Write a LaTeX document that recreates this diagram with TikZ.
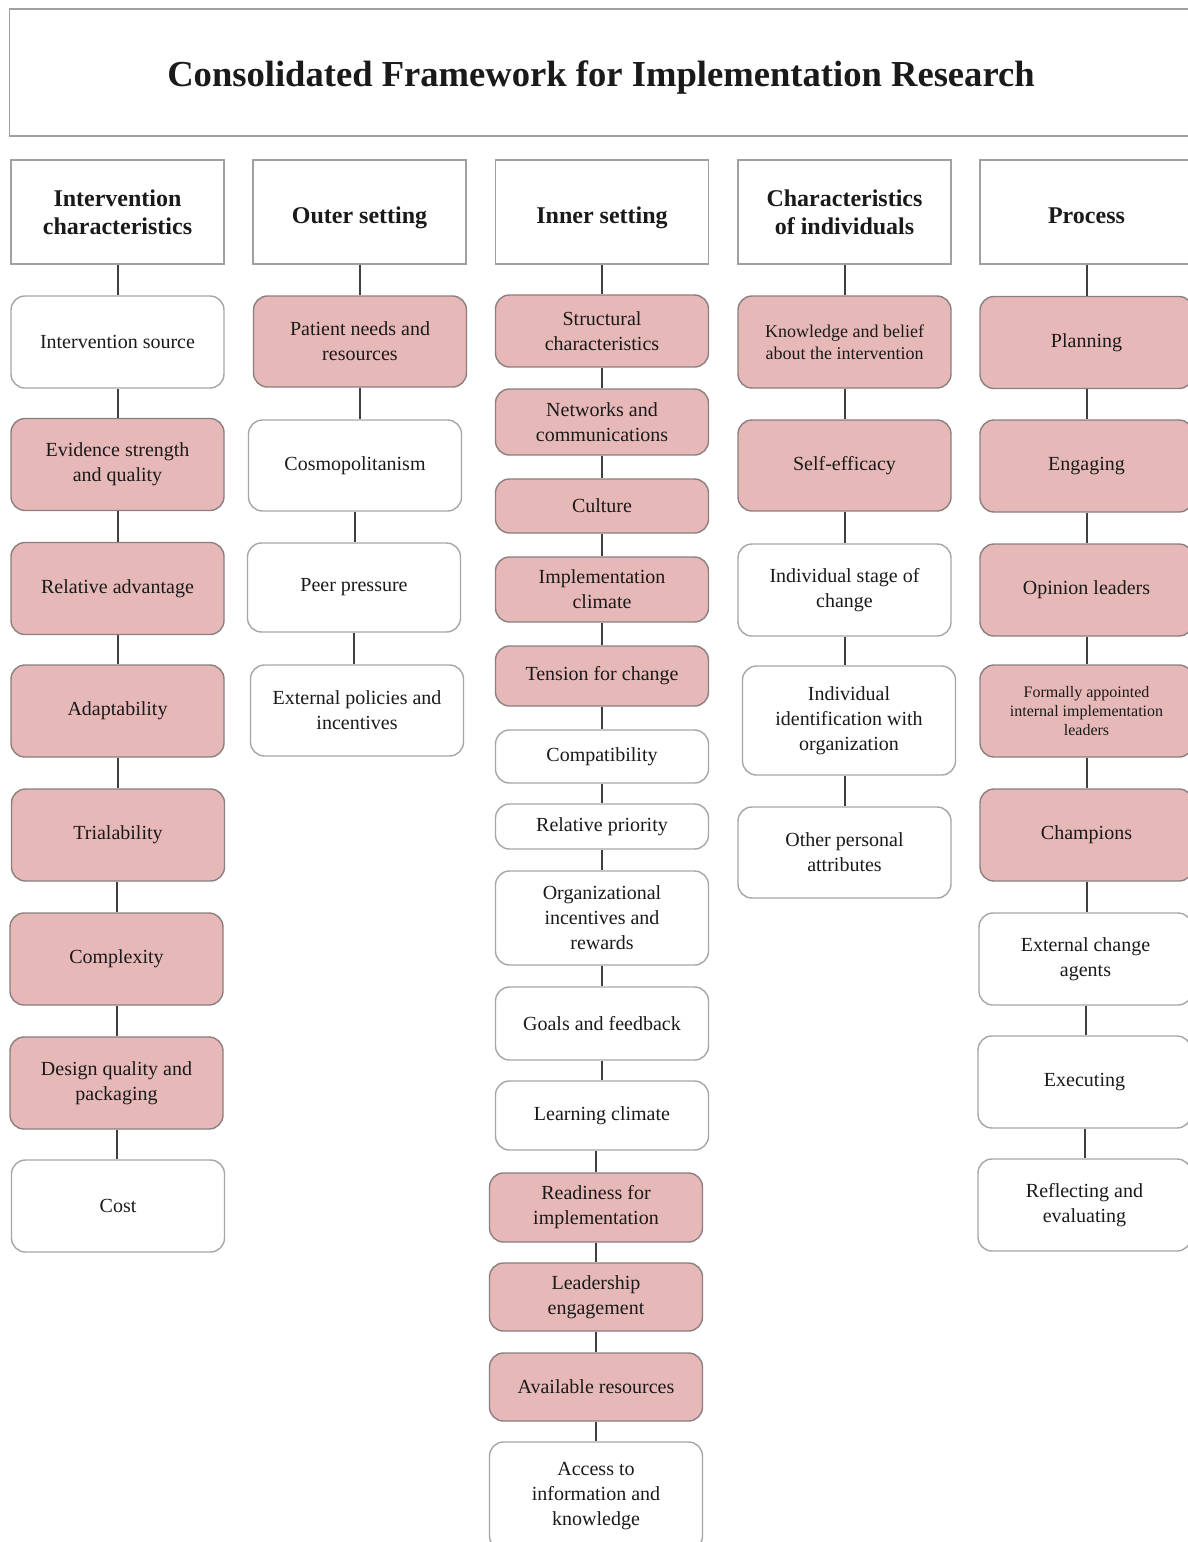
\documentclass[tikz,border=0pt]{standalone}
\usepackage{fontspec}
\setmainfont{Liberation Serif}
\usepackage{tikz}
\usetikzlibrary{positioning}

\definecolor{cfirpink}{HTML}{E6B8B7}
\definecolor{pinkedge}{HTML}{8C7F7F}
\definecolor{boxgray}{HTML}{A6A6A6}
\definecolor{headgray}{HTML}{A0A0A0}
\definecolor{linegray}{HTML}{404040}
\definecolor{inkgray}{HTML}{1A1A1A}

\tikzset{
  headbox/.style={draw=headgray, line width=0.7pt, fill=white, text=inkgray,
    minimum width=106.5pt, minimum height=52pt, align=center,
    font=\bfseries\fontsize{12}{14}\selectfont},
  headone/.style={headbox, text height=11pt, text depth=0pt},
  itembox/.style={draw=boxgray, rounded corners=7pt, line width=0.7pt, text=inkgray,
    minimum width=106.5pt, minimum height=46pt, align=center, inner sep=2pt,
    font=\fontsize{10}{12.5}\selectfont},
  pinkbox/.style={itembox, fill=cfirpink, draw=pinkedge},
  whitebox/.style={itembox, fill=white},
  conn/.style={draw=linegray, line width=1pt}
}

\begin{document}
\begin{tikzpicture}[x=0.5pt,y=-0.5pt]
        \clip (0,0) rectangle (1188,1542);
        \fill[white] (0,0) rectangle (1188,1542);

        % title
        \node[draw=headgray, line width=0.7pt, minimum width=592.5pt, minimum height=63.5pt] (title) at (602,72.5) {};
        \node[font=\bfseries\fontsize{18.3}{22}\selectfont, text=inkgray] (titletext) at (601,78) {Consolidated Framework for Implementation Research};

        % headers
        \node[headbox] (hint) at (117.5,212) {Intervention\\characteristics};
        \node[headone] (hout) at (359.5,212) {Outer setting};
        \node[headone] (hinn) at (602,212) {Inner setting};
        \node[headbox] (hind) at (844.5,212) {Characteristics\\of individuals};
        \node[headone] (hpro) at (1086.5,212) {Process};

        % intervention characteristics
        \node[whitebox] (source) at (117.5,342) {Intervention source};
        \node[pinkbox] (evidence) at (117.5,464.5) {Evidence strength\\and quality};
        \node[pinkbox] (advantage) at (117.5,588.5) {Relative advantage};
        \node[pinkbox] (adapt) at (117.5,711) {Adaptability};
        \node[pinkbox] (trial) at (118,835) {Trialability};
        \node[pinkbox] (complex) at (116.5,959) {Complexity};
        \node[pinkbox] (design) at (116.5,1083) {Design quality and\\packaging};
        \node[whitebox] (cost) at (118,1206) {Cost};

        % outer setting
        \node[pinkbox, minimum height=45.5pt] (needs) at (360,341.5) {Patient needs and\\resources};
        \node[whitebox, minimum height=45.5pt] (cosmo) at (355,465.5) {Cosmopolitanism};
        \node[whitebox, minimum height=44.5pt] (peer) at (354,587.5) {Peer pressure};
        \node[whitebox, minimum height=45.5pt] (policies) at (357,710.5) {External policies and\\incentives};

        % inner setting
        \node[pinkbox, minimum height=36pt] (struct) at (602,331) {Structural\\characteristics};
        \node[pinkbox, minimum height=33pt] (networks) at (602,422) {Networks and\\communications};
        \node[pinkbox, minimum height=27pt] (culture) at (602,506) {Culture};
        \node[pinkbox, minimum height=32.5pt] (climate) at (602,589.5) {Implementation\\climate};
        \node[pinkbox, minimum height=30pt] (tension) at (602,676) {Tension for change};
        \node[whitebox, minimum height=26.5pt] (compat) at (602,756.5) {Compatibility};
        \node[whitebox, minimum height=22.5pt] (priority) at (602,826.5) {Relative priority};
        \node[whitebox, minimum height=47pt] (rewards) at (602,918) {Organizational\\incentives and\\rewards};
        \node[whitebox, minimum height=36.5pt] (goals) at (602,1023.5) {Goals and feedback};
        \node[whitebox, minimum height=34.5pt] (learning) at (602,1115.5) {Learning climate};
        \node[pinkbox, minimum height=34.5pt] (readiness) at (596,1207.5) {Readiness for\\implementation};
        \node[pinkbox, minimum height=34pt] (leader) at (596,1297) {Leadership\\engagement};
        \node[pinkbox, minimum height=34pt] (available) at (596,1387) {Available resources};
        \node[whitebox, minimum height=54pt] (access) at (596,1496) {Access to\\information and\\knowledge};

        % characteristics of individuals
        \node[pinkbox, font=\fontsize{9}{11}\selectfont] (knowledge) at (844.5,342) {Knowledge and belief\\about the intervention};
        \node[pinkbox, minimum height=45.5pt] (efficacy) at (844.5,465.5) {Self-efficacy};
        \node[whitebox] (stage) at (844.5,590) {Individual stage of\\change};
        \node[whitebox, minimum height=54.5pt] (ident) at (849,720.5) {Individual\\identification with\\organization};
        \node[whitebox, minimum height=45.5pt] (other) at (844.5,852.5) {Other personal\\attributes};

        % process
        \node[pinkbox] (planning) at (1086.5,342.5) {Planning};
        \node[pinkbox] (engaging) at (1086.5,466) {Engaging};
        \node[pinkbox] (opinion) at (1086.5,590) {Opinion leaders};
        \node[pinkbox, font=\fontsize{8}{9.5}\selectfont] (formal) at (1086.5,711) {Formally appointed\\internal implementation\\leaders};
        \node[pinkbox] (champions) at (1086.5,835) {Champions};
        \node[whitebox] (agents) at (1085.5,959) {External change\\agents};
        \node[whitebox] (executing) at (1084.5,1082) {Executing};
        \node[whitebox] (reflect) at (1084.5,1205) {Reflecting and\\evaluating};

        % connectors
        \draw[conn] (hint.south) -- (hint.south |- source.north);
        \draw[conn] (source.south) -- (source.south |- evidence.north);
        \draw[conn] (evidence.south) -- (evidence.south |- advantage.north);
        \draw[conn] (advantage.south) -- (advantage.south |- adapt.north);
        \draw[conn] (adapt.south) -- (adapt.south |- trial.north);
        \draw[conn] (complex.north) -- (complex.north |- trial.south);
        \draw[conn] (complex.south) -- (complex.south |- design.north);
        \draw[conn] (design.south) -- (design.south |- cost.north);

        \draw[conn] (hout.south) -- (hout.south |- needs.north);
        \draw[conn] (needs.south) -- (needs.south |- cosmo.north);
        \draw[conn] (cosmo.south) -- (cosmo.south |- peer.north);
        \draw[conn] (peer.south) -- (peer.south |- policies.north);

        \draw[conn] (hinn.south) -- (hinn.south |- struct.north);
        \draw[conn] (struct.south) -- (networks.north);
        \draw[conn] (networks.south) -- (culture.north);
        \draw[conn] (culture.south) -- (climate.north);
        \draw[conn] (climate.south) -- (tension.north);
        \draw[conn] (tension.south) -- (compat.north);
        \draw[conn] (compat.south) -- (priority.north);
        \draw[conn] (priority.south) -- (rewards.north);
        \draw[conn] (rewards.south) -- (goals.north);
        \draw[conn] (goals.south) -- (learning.north);
        \draw[conn] (readiness.north) -- (readiness.north |- learning.south);
        \draw[conn] (readiness.south) -- (leader.north);
        \draw[conn] (leader.south) -- (available.north);
        \draw[conn] (available.south) -- (access.north);

        \draw[conn] (hind.south) -- (hind.south |- knowledge.north);
        \draw[conn] (knowledge.south) -- (efficacy.north);
        \draw[conn] (efficacy.south) -- (stage.north);
        \draw[conn] (stage.south) -- (stage.south |- ident.north);
        \draw[conn] (other.north) -- (other.north |- ident.south);

        \draw[conn] (hpro.south) -- (planning.north);
        \draw[conn] (planning.south) -- (engaging.north);
        \draw[conn] (engaging.south) -- (opinion.north);
        \draw[conn] (opinion.south) -- (formal.north);
        \draw[conn] (formal.south) -- (champions.north);
        \draw[conn] (champions.south) -- (champions.south |- agents.north);
        \draw[conn] (agents.south) -- (agents.south |- executing.north);
        \draw[conn] (executing.south) -- (reflect.north);
\end{tikzpicture}
\end{document}
